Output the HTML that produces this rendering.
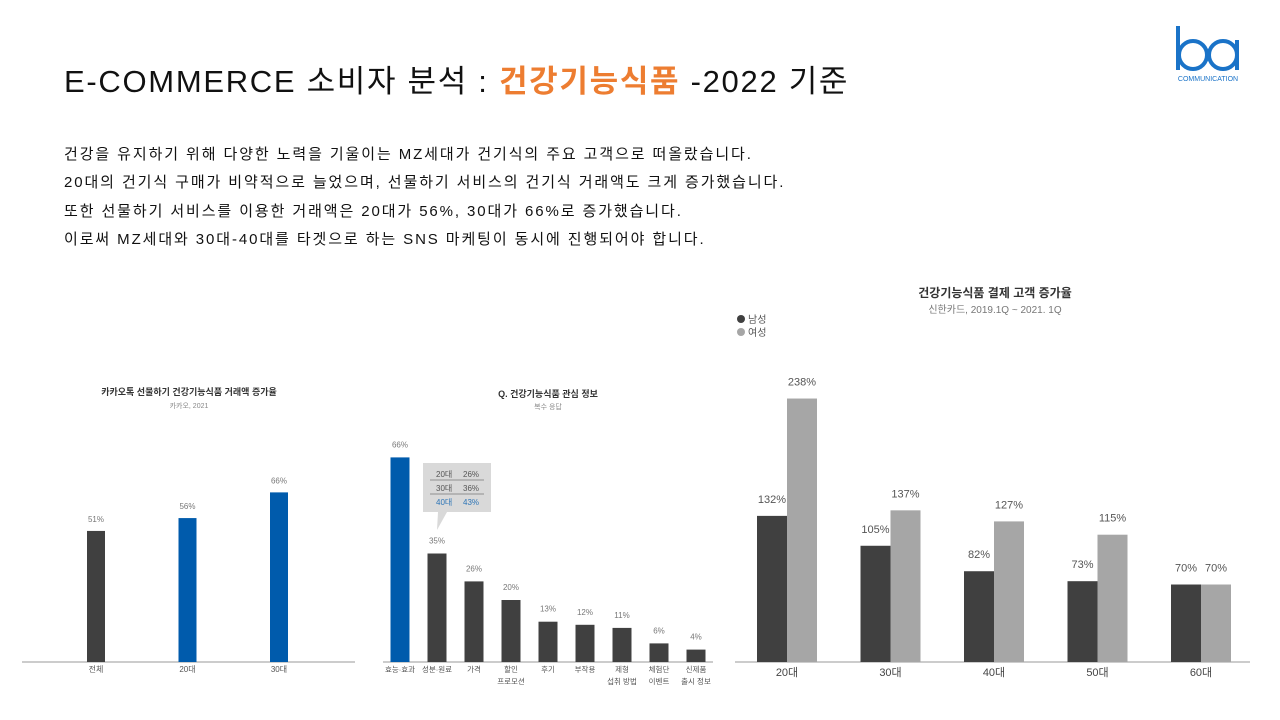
<!DOCTYPE html>
<html><head><meta charset="utf-8"><style>
body{margin:0;width:1280px;height:720px;background:#fff;overflow:hidden;position:relative;font-family:"Liberation Sans","Noto Sans CJK KR",sans-serif;}
#title{position:absolute;left:64px;top:56px;font-size:31px;color:#111;white-space:nowrap;letter-spacing:1.7px}
#title span{color:#ED7D31;font-weight:bold}
.p{position:absolute;left:64px;font-size:15px;color:#111;white-space:nowrap;letter-spacing:1.9px}
svg{position:absolute;left:0;top:0}
svg text{font-family:"Liberation Sans","Noto Sans CJK KR",sans-serif}
</style></head><body>
<div id="title">E-COMMERCE 소비자 분석 : <span>건강기능식품</span> -2022 기준</div>
<div class="p" style="top:143px">건강을 유지하기 위해 다양한 노력을 기울이는 MZ세대가 건기식의 주요 고객으로 떠올랐습니다.</div>
<div class="p" style="top:171px">20대의 건기식 구매가 비약적으로 늘었으며, 선물하기 서비스의 건기식 거래액도 크게 증가했습니다.</div>
<div class="p" style="top:200px">또한 선물하기 서비스를 이용한 거래액은 20대가 56%, 30대가 66%로 증가했습니다.</div>
<div class="p" style="top:228px">이로써 MZ세대와 30대-40대를 타겟으로 하는 SNS 마케팅이 동시에 진행되어야 합니다.</div>
<svg id="s" width="1280" height="720">
<g>
<path d="M1178 26 V70" stroke="#1a73c8" stroke-width="4" fill="none"/>
<circle cx="1193" cy="55" r="14" stroke="#1a73c8" stroke-width="4" fill="none"/>
<circle cx="1223" cy="55" r="14" stroke="#1a73c8" stroke-width="4" fill="none"/>
<path d="M1237 40 V70" stroke="#1a73c8" stroke-width="4" fill="none"/>
<text x="1208" y="81" font-size="7" fill="#1a73c8" text-anchor="middle">COMMUNICATION</text>
</g>
<text x="189" y="395" font-size="9" font-weight="bold" fill="#333" text-anchor="middle">카카오톡 선물하기 건강기능식품 거래액 증가율</text>
<text x="189" y="408" font-size="7" fill="#888" text-anchor="middle">카카오, 2021</text>
<text x="548" y="397" font-size="9" font-weight="bold" fill="#333" text-anchor="middle">Q. 건강기능식품 관심 정보</text>
<text x="548" y="409" font-size="7" fill="#888" text-anchor="middle">복수 응답</text>
<text x="995" y="297" font-size="12" font-weight="bold" fill="#333" text-anchor="middle">건강기능식품 결제 고객 증가율</text>
<text x="995" y="313" font-size="10" fill="#777" text-anchor="middle">신한카드, 2019.1Q ~ 2021. 1Q</text>
<g>
<circle cx="741" cy="319" r="4" fill="#404040"/><text x="748" y="323" font-size="10" fill="#555">남성</text>
<circle cx="741" cy="332" r="4" fill="#a6a6a6"/><text x="748" y="336" font-size="10" fill="#555">여성</text>
</g>
<g>
<path d="M423 463 H491 V512 H447 L437 530 L438 512 H423 Z" fill="#d9d9d9"/>
<line x1="430" y1="480" x2="484" y2="480" stroke="#777" stroke-width="0.8"/>
<line x1="430" y1="494" x2="484" y2="494" stroke="#777" stroke-width="0.8"/>
<text x="436" y="477" font-size="8" fill="#555">20대</text><text x="463" y="477" font-size="8" fill="#555">26%</text>
<text x="436" y="491" font-size="8" fill="#555">30대</text><text x="463" y="491" font-size="8" fill="#555">36%</text>
<text x="436" y="505" font-size="8" fill="#2e75b6">40대</text><text x="463" y="505" font-size="8" fill="#2e75b6">43%</text>
</g>
</svg>
<script>
const c1Cats=["전체","20대","30대"];
const c1Vals=[51,56,66];
const c2Cats=[["효능·효과"],["성분·원료"],["가격"],["할인","프로모션"],["후기"],["부작용"],["제형","섭취 방법"],["체험단","이벤트"],["신제품","출시 정보"]];
const c2Vals=[66,35,26,20,13,12,11,6,4];
const c3Cats=["20대","30대","40대","50대","60대"];
const c3Male=[132,105,82,73,70];
const c3Female=[238,137,127,115,70];
const s=document.getElementById('s');
const NS="http://www.w3.org/2000/svg";
function mk(t,a,txt){const e=document.createElementNS(NS,t);for(const k in a)e.setAttribute(k,a[k]);if(txt!=null)e.textContent=txt;s.appendChild(e);return e;}
const base=662;
const y1=v=>base-v*2.57, x1=i=>96+i*91.5;
mk('line',{x1:22,y1:base,x2:355,y2:base,stroke:'#999','stroke-width':1});
c1Vals.forEach((v,i)=>{
 const r=mk('rect',{x:x1(i)-9,y:y1(v),width:18,height:base-y1(v),fill:i==0?'#404040':'#005bac'});
 
 
 mk('text',{x:x1(i),y:y1(v)-9,'font-size':8,fill:'#777','text-anchor':'middle'},v+'%');
 mk('text',{x:x1(i),y:672,'font-size':8,fill:'#555','text-anchor':'middle'},c1Cats[i]);
});
const y2=v=>base-v*3.1, x2=i=>400+i*37;
mk('line',{x1:383,y1:base,x2:713,y2:base,stroke:'#999','stroke-width':1});
c2Vals.forEach((v,i)=>{
 const r=mk('rect',{x:x2(i)-9.5,y:y2(v),width:19,height:base-y2(v),fill:i==0?'#005bac':'#404040'});
 
 
 mk('text',{x:x2(i),y:y2(v)-10,'font-size':8,fill:'#777','text-anchor':'middle'},v+'%');
 c2Cats[i].forEach((l,j)=>mk('text',{x:x2(i),y:672+j*12,'font-size':7.5,fill:'#555','text-anchor':'middle'},l));
});
const y3=v=>base-v*1.107, x3=i=>787+i*103.5;
mk('line',{x1:735,y1:base,x2:1250,y2:base,stroke:'#999','stroke-width':1});
c3Cats.forEach((c,i)=>{
 const m=mk('rect',{x:x3(i)-30,y:y3(c3Male[i]),width:30,height:base-y3(c3Male[i]),fill:'#404040'});
 
 
 const f=mk('rect',{x:x3(i),y:y3(c3Female[i]),width:30,height:base-y3(c3Female[i]),fill:'#a6a6a6'});
 
 
 mk('text',{x:x3(i)-15,y:y3(c3Male[i])-13,'font-size':11,fill:'#555','text-anchor':'middle'},c3Male[i]+'%');
 mk('text',{x:x3(i)+15,y:y3(c3Female[i])-13,'font-size':11,fill:'#555','text-anchor':'middle'},c3Female[i]+'%');
 mk('text',{x:x3(i),y:676,'font-size':11,fill:'#444','text-anchor':'middle'},c);
});
</script>
</body></html>
